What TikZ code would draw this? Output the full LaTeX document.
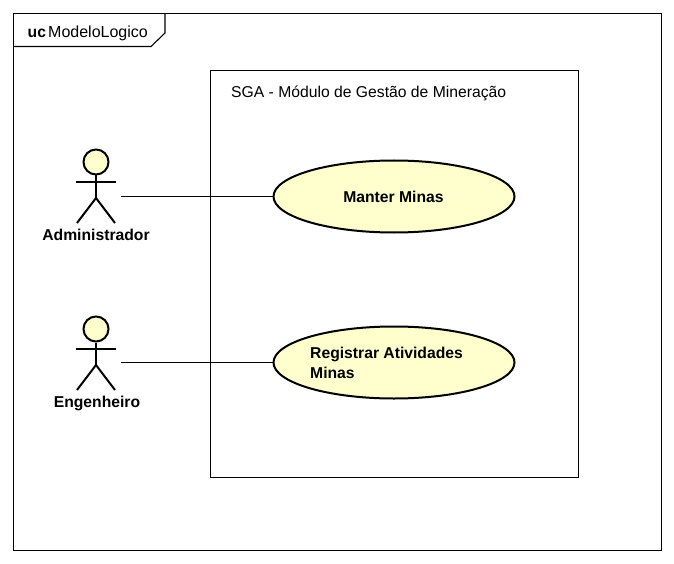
\documentclass[tikz,border=0pt]{standalone}
\usepackage{fontspec}
\setmainfont{Liberation Sans}
\usetikzlibrary{shapes.geometric}
\definecolor{ucfill}{RGB}{255,255,206}
\tikzset{
  line/.style={draw=black,line width=1.1pt},
  usecase/.style={ellipse,draw=black,line width=2pt,fill=ucfill,minimum width=241pt,minimum height=72pt,inner sep=0pt,outer sep=0pt},
  lbl/.style={font=\bfseries\fontsize{15.7}{20}\selectfont,text=black,inner sep=0pt},
  plain/.style={font=\fontsize{15.7}{20}\selectfont,text=black,inner sep=0pt,anchor=base west},
  actorhead/.style={circle,draw=black,line width=2pt,fill=ucfill,minimum size=25pt,inner sep=0pt},
  limb/.style={draw=black,line width=2pt}
}
\newcommand{\actorfig}[3]{%
  \node[actorhead] (#3head) at (#1,#2) {};
  \coordinate (#3hip) at (#1,#2+36);
  \coordinate (#3armL) at (#1-20,#2+20);
  \coordinate (#3armR) at (#1+20,#2+20);
  \coordinate (#3legL) at (#1-19,#2+61);
  \coordinate (#3legR) at (#1+19,#2+61);
  \draw[limb] (#3head.south) -- (#3hip);
  \draw[limb] (#3armL) -- (#3armR);
  \draw[limb] (#3legL) -- (#3hip) -- (#3legR);
}
\begin{document}
\begin{tikzpicture}[x=1pt,y=-1pt]
\useasboundingbox[fill=white] (0,0) rectangle (674,564);
\draw[line] (13.5,13.5) rectangle (661.5,550.5);
\draw[line] (165,13.5) -- (165,33) -- (151,46.5) -- (13.5,46.5);
\node[lbl,anchor=base west] (uc) at (27.5,37.5) {uc};
\node[plain,font=\fontsize{16}{20}\selectfont] (title) at (48,37.5) {ModeloLogico};
\draw[line] (210.5,70.5) rectangle (578.5,477.5);
\node[plain] (sga) at (231,97.5) {SGA - Módulo de Gestão de Mineração};
\actorfig{96}{162}{a}
\actorfig{96}{329}{b}
\node[lbl,anchor=base] (admin) at (96,240) {Administrador};
\node[lbl,anchor=base] (eng) at (97,407) {Engenheiro};
\coordinate (ac) at (121,196.5);
\coordinate (bc) at (121,362.5);
\node[usecase] (u1) at (394,196.5) {};
\node[usecase] (u2) at (394,362.5) {};
\node[lbl,anchor=base] (t1) at (393.5,202) {Manter Minas};
\node[lbl,align=left,anchor=west] (t2) at (310,363) {Registrar Atividades\\Minas};
\draw[line] (ac) -- (u1);
\draw[line] (bc) -- (u2);
\end{tikzpicture}
\end{document}
